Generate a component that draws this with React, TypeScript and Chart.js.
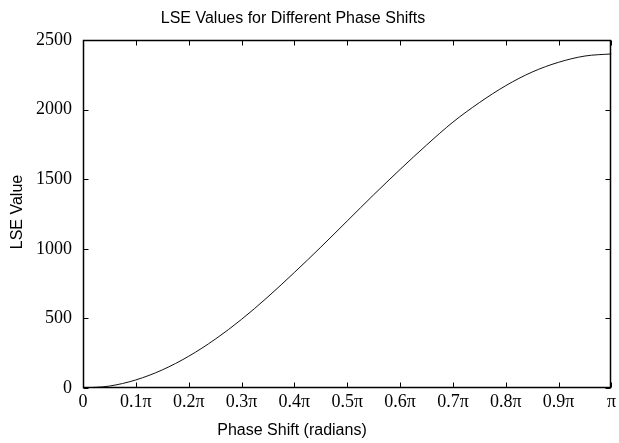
import { useEffect, useRef } from "react";
import { Chart, registerables } from "chart.js";

Chart.register(...registerables);

// Phase shift expressed as a fraction of π
const phaseFractions = [
  0, 0.05, 0.1, 0.15, 0.2, 0.25, 0.3, 0.35, 0.4, 0.45, 0.5,
  0.55, 0.6, 0.65, 0.7, 0.75, 0.8, 0.85, 0.9, 0.95, 1,
];
// LSE values
const lseValues = [
  0, 14, 58, 130, 228, 350, 493, 655, 830, 1012, 1200,
  1388, 1570, 1745, 1910, 2050, 2172, 2270, 2340, 2385, 2400,
];
const xTickLabels = [
  "0", "0.1π", "0.2π", "0.3π", "0.4π", "0.5π", "0.6π", "0.7π", "0.8π", "0.9π", "π",
];
const yTickValues = [0, 500, 1000, 1500, 2000, 2500];

const chartTitle = "LSE Values for Different Phase Shifts";
const xAxisTitle = "Phase Shift (radians)";
const yAxisTitle = "LSE Value";

const SANS = '"Liberation Sans", Arial, Helvetica, sans-serif';
const SERIF = '"Liberation Serif", "Times New Roman", serif';

const framePlugin = {
  id: "matlabFrame",
  afterDraw(chart: any) {
    const { ctx, chartArea: a, scales } = chart;
    const L = Math.round(a.left) + 0.5;
    const R = Math.round(a.right) - 0.5;
    const T = Math.round(a.top) + 0.5;
    const B = Math.round(a.bottom) - 0.5;
    const tl = 5;
    ctx.save();
    ctx.strokeStyle = "#000";
    ctx.lineWidth = 1.5;
    ctx.strokeRect(L, T, R - L, B - T);
    ctx.lineWidth = 1;
    ctx.beginPath();
    for (const t of scales.x.ticks) {
      const px = Math.round(scales.x.getPixelForValue(t.value)) + 0.5;
      ctx.moveTo(px, B);
      ctx.lineTo(px, B - tl);
      ctx.moveTo(px, T);
      ctx.lineTo(px, T + tl);
    }
    for (const t of scales.y.ticks) {
      const py = Math.round(scales.y.getPixelForValue(t.value)) + 0.5;
      ctx.moveTo(L, py);
      ctx.lineTo(L + tl, py);
      ctx.moveTo(R, py);
      ctx.lineTo(R - tl, py);
    }
    ctx.stroke();

    ctx.fillStyle = "#000";
    ctx.font = `16px ${SANS}`;
    ctx.textAlign = "center";
    ctx.textBaseline = "middle";
    ctx.fillText(chartTitle, 293, 19);
    ctx.fillText(xAxisTitle, 292, 431);
    ctx.translate(18, 212);
    ctx.rotate(-Math.PI / 2);
    ctx.fillText(yAxisTitle, 0, 0);
    ctx.restore();
  },
};

export default function App() {
  const canvasRef = useRef<HTMLCanvasElement | null>(null);

  useEffect(() => {
    const canvas = canvasRef.current;
    if (!canvas) return;
    const points = phaseFractions.map((x, i) => ({ x, y: lseValues[i] }));
    const chart = new Chart(canvas, {
      type: "line",
      data: {
        datasets: [
          {
            data: points,
            borderColor: "#111",
            borderWidth: 1,
            pointRadius: 0,
            cubicInterpolationMode: "monotone",
            fill: false,
          },
        ],
      },
      options: {
        responsive: false,
        animation: false,
        layout: { padding: { top: 40, right: 7, bottom: 0, left: 0 } },
        plugins: {
          legend: { display: false },
          tooltip: { enabled: false },
          title: { display: false },
        },
        scales: {
          x: {
            type: "linear",
            min: 0,
            max: 1,
            grid: { display: false, drawTicks: false },
            border: { display: false },
            afterBuildTicks: (scale: any) => {
              scale.ticks = xTickLabels.map((_, i) => ({ value: i / 10 }));
            },
            afterFit: (scale: any) => {
              scale.height = 55;
            },
            ticks: {
              padding: 3,
              maxRotation: 0,
              autoSkip: false,
              color: "#000",
              font: { family: SERIF, size: 18 },
              callback: (_v: any, i: number) => xTickLabels[i],
            },
          },
          y: {
            type: "linear",
            min: 0,
            max: 2500,
            grid: { display: false, drawTicks: false },
            border: { display: false },
            afterBuildTicks: (scale: any) => {
              scale.ticks = yTickValues.map((v) => ({ value: v }));
            },
            afterFit: (scale: any) => {
              scale.width = 83;
            },
            ticks: {
              padding: 11,
              color: "#000",
              font: { family: SERIF, size: 18 },
              callback: (v: any) => String(v),
            },
          },
        },
      },
      plugins: [framePlugin],
    });
    return () => chart.destroy();
  }, []);

  return (
    <div style={{ position: "absolute", left: 0, top: 0, width: 619, height: 443, background: "#fff" }}>
      <canvas ref={canvasRef} width={619} height={443} style={{ display: "block" }} />
    </div>
  );
}
